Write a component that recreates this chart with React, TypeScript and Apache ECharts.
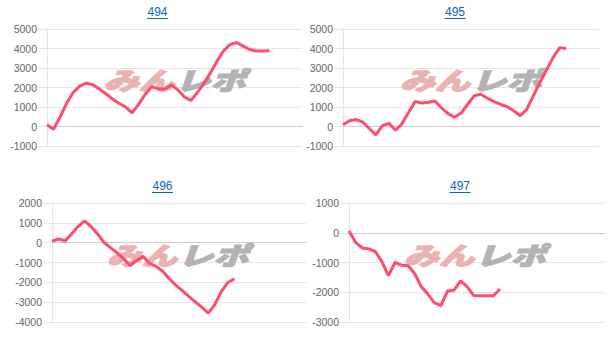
import React, { useEffect, useRef } from "react";
import * as echarts from "echarts";

const categories = [
  "1", "2", "3", "4", "5", "6", "7", "8", "9", "10",
  "11", "12", "13", "14", "15", "16", "17", "18", "19", "20",
  "21", "22", "23", "24", "25", "26", "27", "28", "29", "30",
  "31", "32", "33", "34", "35", "36", "37", "38", "39", "40",
];

const titles = ["494", "495", "496", "497"];

const values494 = [
  85, -140, 480, 1190, 1740, 2070, 2220, 2140, 1930, 1680,
  1410, 1190, 1010, 700, 1130, 1640, 2040, 1940, 1920, 2130,
  1890, 1520, 1330, 1740, 2210, 2750, 3350, 3880, 4200, 4310,
  4120, 3950, 3870, 3870, 3880,
];

const values495 = [
  85, 295, 355, 230, -100, -430, 45, 160, -190, 150,
  730, 1280, 1200, 1240, 1310, 960, 660, 470, 690, 1140,
  1580, 1650, 1450, 1280, 1130, 1020, 810, 550, 880, 1580,
  2260, 2890, 3530, 4040, 4000,
];

const values496 = [
  70, 185, 90, 440, 810, 1100, 810, 440, 10, -260,
  -510, -820, -1150, -900, -680, -1050, -1200, -1440, -1820, -2140,
  -2420, -2710, -2990, -3250, -3550, -3120, -2460, -2010, -1820,
];

const values497 = [
  55, -320, -510, -540, -630, -960, -1440, -1000, -1090, -1110,
  -1370, -1810, -2060, -2350, -2450, -1960, -1930, -1620, -1810, -2110,
  -2120, -2120, -2120, -1890,
];

const yMin = [-1000, -1000, -4000, -3000];
const yMax = [5000, 5000, 2000, 1000];

const seriesValues = [values494, values495, values496, values497];

// layout (pixels)
const grids = [
  { left: 47, top: 29, width: 255, height: 117 },
  { left: 343, top: 29, width: 256, height: 117 },
  { left: 52, top: 203, width: 254, height: 119 },
  { left: 349, top: 203, width: 256, height: 119 },
];
const titlePos = [
  { x: 157.5, y: 6 },
  { x: 455, y: 6 },
  { x: 162.5, y: 180 },
  { x: 460, y: 180 },
];
const markPos = [
  { x: 174, y: 79 },
  { x: 470, y: 79 },
  { x: 177, y: 254 },
  { x: 474, y: 254 },
];

const FONT = "'Liberation Sans', Arial, sans-serif";
const LINE = "#ff4d6d";
const SPLIT = "#e6e6e6";
const MARK_FONT = `italic 900 27px 'Noto Sans CJK JP', sans-serif`;

export default function App() {
  const ref = useRef<HTMLDivElement>(null);

  useEffect(() => {
    if (!ref.current) return;
    const chart = echarts.init(ref.current, undefined, { renderer: "svg" });

    const graphic: any[] = [];
    titles.forEach((t, i) => {
      graphic.push({
        type: "text",
        x: titlePos[i].x,
        y: titlePos[i].y,
        z: 10,
        style: {
          text: t,
          fill: "#0b63c5",
          font: `12px ${FONT}`,
          align: "center",
          verticalAlign: "top",
        },
      });
      graphic.push({
        type: "line",
        z: 10,
        shape: {
          x1: titlePos[i].x - 10.5,
          y1: titlePos[i].y + 12.5,
          x2: titlePos[i].x + 10.5,
          y2: titlePos[i].y + 12.5,
        },
        style: { stroke: "#0b63c5", lineWidth: 1 },
      });
      graphic.push({
        type: "group",
        x: markPos[i].x,
        y: markPos[i].y,
        scaleX: 1.3,
        scaleY: 0.92,
        z: 1,
        children: [
          {
            type: "text",
            x: 0,
            y: 0,
            z: 1,
            style: {
              text: "みん",
              fill: "#ebb2b2",
              stroke: "#ebb2b2",
              lineWidth: 1.2,
              font: MARK_FONT,
              align: "right",
              verticalAlign: "middle",
            },
          },
          {
            type: "text",
            x: 1,
            y: 0,
            z: 1,
            style: {
              text: "レポ",
              fill: "#b3b3b3",
              stroke: "#b3b3b3",
              lineWidth: 1.2,
              font: MARK_FONT,
              align: "left",
              verticalAlign: "middle",
            },
          },
        ],
      });
    });

    const option: any = {
      animation: false,
      backgroundColor: "#ffffff",
      textStyle: { fontFamily: FONT },
      grid: grids.map((g) => ({ ...g, containLabel: false })),
      xAxis: grids.map((_, i) => ({
        type: "category",
        gridIndex: i,
        data: categories,
        boundaryGap: false,
        axisLabel: { show: false },
        axisTick: { show: false },
        axisLine: { show: true, onZero: true, lineStyle: { color: "#cccccc", width: 1 } },
        splitLine: { show: false },
      })),
      yAxis: grids.map((_, i) => ({
        type: "value",
        gridIndex: i,
        min: yMin[i],
        max: yMax[i],
        interval: 1000,
        axisLine: { show: true, lineStyle: { color: SPLIT } },
        axisTick: { show: true, length: 9, lineStyle: { color: SPLIT } },
        axisLabel: {
          color: "#666666",
          fontSize: 10.5,
          fontFamily: FONT,
          margin: 10,
          formatter: (v: number) => String(v),
        },
        splitLine: { show: true, lineStyle: { color: SPLIT, width: 1 } },
      })),
      series: seriesValues.map((vals, i) => ({
        type: "line",
        xAxisIndex: i,
        yAxisIndex: i,
        data: vals,
        symbol: "none",
        smooth: false,
        z: 5,
        lineStyle: { color: LINE, width: 3 },
        itemStyle: { color: LINE },
      })),
      graphic,
    };

    chart.setOption(option);
    return () => chart.dispose();
  }, []);

  return (
    <div
      ref={ref}
      style={{ position: "fixed", left: 0, top: 0, width: 609, height: 353 }}
    />
  );
}
